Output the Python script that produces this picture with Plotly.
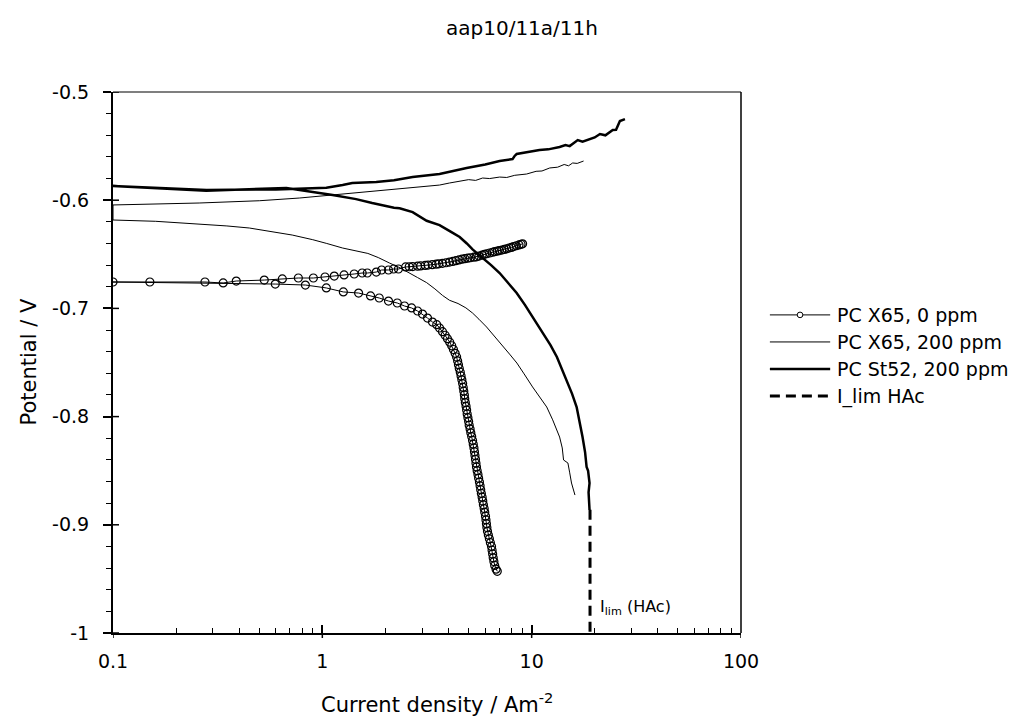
import plotly.graph_objects as go

FONT = "DejaVu Sans, Liberation Sans, Arial, sans-serif"

# ---- PC X65, 0 ppm (circles) : cathodic branch from low end up to OCP, then anodic
X65_0_CATH_I = [6.85, 6.76, 6.66, 6.60, 6.55, 6.51, 6.47, 6.43, 6.35, 6.28, 6.21, 6.15, 6.11, 6.08, 6.05,
                6.02, 5.97, 5.93, 5.88, 5.84, 5.80, 5.75, 5.71, 5.67, 5.63, 5.58, 5.54, 5.49, 5.45, 5.42,
                5.39, 5.36, 5.33, 5.30, 5.26, 5.22, 5.17, 5.12, 5.08, 5.03, 5.00, 4.96, 4.92, 4.89, 4.86,
                4.82, 4.79, 4.77, 4.74, 4.71, 4.68, 4.64, 4.60, 4.56, 4.51, 4.47, 4.43, 4.38, 4.31, 4.23,
                4.15, 4.06, 3.96, 3.86, 3.75, 3.63, 3.52, 3.36, 3.18, 3.01, 2.85, 2.67, 2.47, 2.28, 2.07,
                1.87, 1.70, 1.49, 1.26, 1.045, 0.83, 0.596]
X65_0_CATH_E = [-0.9430, -0.9410, -0.9375, -0.9340, -0.9305, -0.9270, -0.9235, -0.9200, -0.9165, -0.9130,
                -0.9095, -0.9060, -0.9025, -0.8990, -0.8955, -0.8920, -0.8885, -0.8850, -0.8815, -0.8780,
                -0.8745, -0.8710, -0.8675, -0.8640, -0.8605, -0.8570, -0.8535, -0.8500, -0.8465, -0.8430,
                -0.8395, -0.8360, -0.8325, -0.8290, -0.8255, -0.8220, -0.8185, -0.8150, -0.8115, -0.8080,
                -0.8045, -0.8010, -0.7975, -0.7940, -0.7905, -0.7870, -0.7835, -0.7800, -0.7765, -0.7730,
                -0.7695, -0.7660, -0.7625, -0.7590, -0.7555, -0.7520, -0.7485, -0.7449, -0.7415, -0.7380,
                -0.7345, -0.7312, -0.7280, -0.7248, -0.7215, -0.7181, -0.7150, -0.7126, -0.7089, -0.7052,
                -0.7024, -0.6996, -0.6978, -0.6950, -0.6932, -0.6904, -0.6885, -0.6858, -0.6848, -0.6811,
                -0.6784, -0.6775]
X65_0_ANOD_I = [0.1, 0.15, 0.275, 0.336, 0.388, 0.528, 0.644, 0.768, 0.906, 1.03, 1.14, 1.27, 1.42, 1.55,
                1.64, 1.81, 1.92, 2.07, 2.19, 2.31, 2.50, 2.6, 2.7, 2.85, 2.95, 3.1, 3.2, 3.35, 3.5, 3.6,
                3.75, 3.9, 4.05, 4.2, 4.35, 4.5, 4.65, 4.8, 4.95, 5.1, 5.3, 5.45, 5.6, 5.8, 5.95, 6.1, 6.3,
                6.5, 6.65, 6.85, 7.0, 7.2, 7.4, 7.6, 7.8, 8.0, 8.2, 8.45, 8.7, 8.9, 9.05]
X65_0_ANOD_E = [-0.6756, -0.6756, -0.6756, -0.6765, -0.6747, -0.6738, -0.6728, -0.6719, -0.6719, -0.6710,
                -0.6701, -0.6691, -0.6682, -0.6673, -0.6673, -0.6664, -0.6645, -0.6645, -0.6636, -0.6636,
                -0.6617, -0.6615, -0.6613, -0.6610, -0.6607, -0.6603, -0.6600, -0.6596, -0.6591, -0.6588,
                -0.6583, -0.6578, -0.6572, -0.6566, -0.6559, -0.6552, -0.6545, -0.6540, -0.6536, -0.6532,
                -0.6527, -0.6523, -0.6516, -0.6507, -0.6500, -0.6495, -0.6488, -0.6481, -0.6476, -0.6470,
                -0.6466, -0.6461, -0.6455, -0.6449, -0.6442, -0.6436, -0.6429, -0.6421, -0.6413, -0.6407,
                -0.6403]

# ---- PC X65, 200 ppm (thin line)
X65_200_CATH_I = [16.1, 15.8, 15.5, 15.2, 14.9, 14.2, 14.0, 13.6, 13.2, 12.6, 11.8, 10.9, 10.1, 9.2, 8.5,
                  7.9, 7.3, 6.85, 6.5, 6.09, 5.6, 5.22, 4.85, 4.45, 4.05, 3.75, 3.45, 3.15, 2.85, 2.61,
                  2.35, 2.09, 1.85, 1.65, 1.45, 1.25, 1.05, 0.90, 0.718, 0.58, 0.448, 0.35, 0.258, 0.16, 0.1]
X65_200_CATH_E = [-0.8725, -0.8680, -0.8614, -0.8520, -0.8429, -0.8401, -0.8290, -0.8189, -0.8120, -0.8030,
                  -0.7911, -0.7820, -0.7726, -0.7605, -0.7505, -0.7430, -0.7350, -0.7285, -0.7235, -0.7172,
                  -0.7100, -0.7043, -0.6995, -0.6955, -0.6925, -0.6880, -0.6820, -0.6762, -0.6715, -0.6673,
                  -0.6625, -0.6580, -0.6530, -0.6492, -0.6468, -0.6442, -0.6400, -0.6365, -0.6322, -0.6290,
                  -0.6257, -0.6238, -0.6220, -0.6195, -0.6183]
X65_200_ANOD_I = [0.1, 0.258, 0.50, 0.776, 1.12, 1.5, 1.94, 2.34, 2.9, 3.63, 4.05, 4.5, 5.0, 5.4, 5.83,
                  6.3, 7.03, 7.6, 8.3, 9.46, 10.5, 11.2, 12.2, 13.3, 14.3, 15.0, 15.7, 16.5, 17.7]
X65_200_ANOD_E = [-0.6044, -0.6026, -0.6005, -0.5980, -0.5952, -0.5928, -0.5906, -0.5896, -0.5878, -0.5860,
                  -0.5841, -0.5828, -0.5810, -0.5817, -0.5795, -0.5800, -0.5786, -0.5790, -0.5770, -0.5758,
                  -0.5733, -0.5730, -0.5702, -0.5695, -0.5670, -0.5682, -0.5656, -0.5660, -0.5638]

# ---- PC St52, 200 ppm (thick line)
ST52_CATH_I = [18.9, 18.7, 18.9, 18.6, 18.3, 18.0, 17.5, 17.0, 16.4, 15.6, 14.7, 14.0, 13.2, 12.3, 11.3,
               10.1, 9.3, 8.48, 7.7, 7.03, 6.4, 5.83, 5.22, 4.9, 4.53, 4.1, 3.63, 3.15, 2.70, 2.34, 2.2,
               1.73, 1.45, 1.12, 0.673, 0.279, 0.1]
ST52_CATH_E = [-0.8863, -0.8700, -0.8614, -0.8500, -0.8466, -0.8330, -0.8189, -0.8050, -0.7911, -0.7790,
               -0.7662, -0.7560, -0.7449, -0.7340, -0.7227, -0.7079, -0.6970, -0.6858, -0.6760, -0.6673,
               -0.6600, -0.6534, -0.6455, -0.6400, -0.6340, -0.6290, -0.6230, -0.6190, -0.6110, -0.6074,
               -0.6070, -0.6026, -0.5990, -0.5952, -0.5887, -0.5912, -0.5869]
ST52_ANOD_I = [0.1, 0.28, 0.6, 1.045, 1.25, 1.39, 1.81, 2.2, 2.70, 3.63, 4.89, 6.0, 7.03, 8.1, 8.29, 8.48,
               10.9, 12.0, 13.6, 14.5, 15.2, 16.6, 17.5, 18.9, 20.0, 21.2, 22.5, 24.4, 25.3, 26.4, 27.9]
ST52_ANOD_E = [-0.5869, -0.5906, -0.5900, -0.5885, -0.5860, -0.5841, -0.5832, -0.5815, -0.5786, -0.5758,
               -0.5702, -0.5670, -0.5638, -0.5620, -0.5591, -0.5573, -0.5536, -0.5530, -0.5508, -0.5490,
               -0.5500, -0.5444, -0.5460, -0.5434, -0.5420, -0.5388, -0.5400, -0.5351, -0.5350, -0.5268,
               -0.5250]

# ---- limiting current line
ILIM_I = [19.0, 19.0]
ILIM_E = [-0.886, -1.0]

SERIES_NAMES = ["PC X65, 0 ppm", "PC X65, 200 ppm", "PC St52, 200 ppm", "I_lim HAc"]

X_TICKS = [0.1, 1, 10, 100]
X_TICKTEXT = ["0.1", "1", "10", "100"]
Y_TICKS = [-1.0, -0.9, -0.8, -0.7, -0.6, -0.5]
Y_TICKTEXT = ["-1", "-0.9", "-0.8", "-0.7", "-0.6", "-0.5"]

fig = go.Figure()

fig.add_trace(go.Scatter(
    x=X65_0_CATH_I + X65_0_ANOD_I, y=X65_0_CATH_E + X65_0_ANOD_E,
    mode="lines+markers", name=SERIES_NAMES[0],
    line=dict(color="black", width=1),
    marker=dict(symbol="circle-open", size=8, color="black", line=dict(width=1.2, color="black")),
    showlegend=False))
fig.add_trace(go.Scatter(
    x=X65_200_CATH_I + X65_200_ANOD_I, y=X65_200_CATH_E + X65_200_ANOD_E,
    mode="lines", name=SERIES_NAMES[1], line=dict(color="black", width=1), showlegend=False))
fig.add_trace(go.Scatter(
    x=ST52_CATH_I + ST52_ANOD_I, y=ST52_CATH_E + ST52_ANOD_E,
    mode="lines", name=SERIES_NAMES[2], line=dict(color="black", width=2.5), showlegend=False))
fig.add_trace(go.Scatter(
    x=ILIM_I, y=ILIM_E, mode="lines", name=SERIES_NAMES[3],
    line=dict(color="black", width=3, dash="10px,6px"), showlegend=False))

minor_x = [m * 10.0 ** e for e in (-1, 0, 1) for m in range(2, 10)]

fig.update_xaxes(
    type="log", range=[-1, 2], tickmode="array", tickvals=X_TICKS, ticktext=X_TICKTEXT,
    ticks="inside", ticklen=8, tickwidth=1.5, tickcolor="black",
    minor=dict(tickmode="array", tickvals=minor_x, ticks="inside", ticklen=5, tickwidth=1, tickcolor="black", showgrid=False),
    showline=True, linecolor="black", linewidth=1.5, showgrid=False, zeroline=False,
    tickfont=dict(family=FONT, size=19, color="black"), ticklabelstandoff=10)
fig.update_yaxes(
    range=[-1, -0.5], tickmode="array", tickvals=Y_TICKS, ticktext=Y_TICKTEXT,
    ticks="outside", ticklen=8, tickwidth=1.5, tickcolor="black",
    minor=dict(tickmode="linear", tick0=-1, dtick=0.02, ticks="outside", ticklen=5, tickwidth=1, tickcolor="black", showgrid=False),
    showline=True, linecolor="black", linewidth=2, showgrid=False, zeroline=False,
    tickfont=dict(family=FONT, size=19, color="black"), ticklabelstandoff=10)

shapes = [
    dict(type="line", xref="paper", yref="paper", x0=0, x1=1, y0=1, y1=1, line=dict(color="#555555", width=1.5)),
    dict(type="line", xref="paper", yref="paper", x0=1, x1=1, y0=0, y1=1, line=dict(color="black", width=1.5)),
]
# inward halves of the major y ticks and outward halves of the major x ticks (they cross the axis)
for v in Y_TICKS:
    shapes.append(dict(type="line", xref="paper", yref="y", x0=0, x1=6 / 628, y0=v, y1=v,
                       line=dict(color="black", width=1.5)))
for v in X_TICKS:
    shapes.append(dict(type="line", xref="x", yref="paper", x0=v, x1=v, y0=0, y1=-5 / 541,
                       line=dict(color="black", width=1.5)))

# manual legend (positions in paper coordinates)
leg_x0, leg_x1, leg_tx = 1.046, 1.142, 1.150
leg_y = [0.588, 0.538, 0.488, 0.438]
leg_w = [1, 1, 2.5, 3]
leg_dash = ["solid", "solid", "solid", "10px,6px"]
annotations = []
for i, name in enumerate(SERIES_NAMES):
    shapes.append(dict(type="line", xref="paper", yref="paper", x0=leg_x0, x1=leg_x1, y0=leg_y[i], y1=leg_y[i],
                       line=dict(color="black", width=leg_w[i], dash=leg_dash[i])))
    annotations.append(dict(xref="paper", yref="paper", x=leg_tx, y=leg_y[i], text=name, showarrow=False,
                            xanchor="left", yanchor="middle", font=dict(family=FONT, size=19, color="black")))
shapes.append(dict(type="circle", xref="paper", yref="paper",
                   x0=(leg_x0 + leg_x1) / 2 - 0.0045, x1=(leg_x0 + leg_x1) / 2 + 0.0045,
                   y0=leg_y[0] - 0.0052, y1=leg_y[0] + 0.0052,
                   line=dict(color="black", width=1), fillcolor="white"))

annotations += [
    dict(xref="paper", yref="paper", x=(522 - 113) / 628, y=1.0 + 64 / 541, text="aap10/11a/11h", showarrow=False,
         xanchor="center", yanchor="middle", font=dict(family=FONT, size=20, color="black")),
    dict(xref="paper", yref="paper", x=(437 - 113) / 628, y=-70 / 541, text="Current density / Am<sup>-2</sup>", showarrow=False,
         xanchor="center", yanchor="middle", font=dict(family=FONT, size=21, color="black")),
    dict(xref="paper", yref="paper", x=-85 / 628, y=0.5, text="Potential / V", showarrow=False, textangle=-90,
         xanchor="center", yanchor="middle", font=dict(family=FONT, size=21, color="black")),
    dict(xref="x", yref="y", x=1.316, y=-0.976, text="I<sub>lim</sub> (HAc)", showarrow=False,
         xanchor="left", yanchor="middle", font=dict(family=FONT, size=16, color="black")),
]

fig.update_layout(
    width=1036, height=728,
    margin=dict(l=113, r=295, t=92, b=95),
    paper_bgcolor="white", plot_bgcolor="white",
    font=dict(family=FONT, color="black"),
    shapes=shapes, annotations=annotations, showlegend=False)

fig.write_html("out.html")
